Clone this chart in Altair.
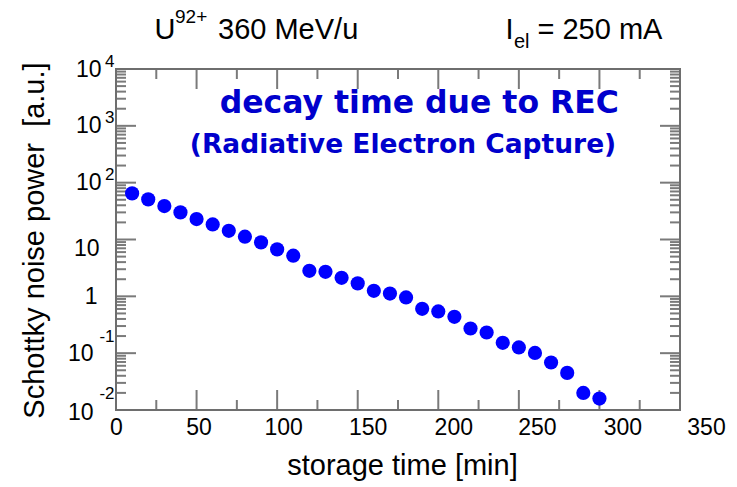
import altair as alt
import pandas as pd

# ---- data ----
time_min = [10, 20, 30, 40, 50, 60, 70, 80, 90, 100,
            110, 120, 130, 140, 150, 160, 170, 180, 190, 200,
            210, 220, 230, 240, 250, 260, 270, 280, 290, 300]
noise_power = [64.8, 50.8, 38.7, 30.0, 22.9, 18.4, 14.2, 11.2, 8.9, 6.7,
               5.2, 2.81, 2.70, 2.12, 1.69, 1.25, 1.12, 0.957, 0.603, 0.542,
               0.436, 0.272, 0.231, 0.152, 0.126, 0.101, 0.0686, 0.045, 0.020, 0.0159]

x_label_values = [0, 50, 100, 150, 200, 250, 300, 350]
x_major_ticks = [50, 100, 150, 200, 250, 300]
x_minor_ticks = [25, 75, 125, 175, 225, 275, 325]
y_decades = [0.01, 0.1, 1, 10, 100, 1000, 10000]
y_major_ticks = [0.1, 1, 10, 100, 1000]
y_exponent_values = [0.01, 0.1, 100, 1000, 10000]
y_minor_ticks = [m * 10.0 ** e for e in range(-2, 4) for m in range(2, 10)]

df = pd.DataFrame({"t": time_min, "p": noise_power})

W, H = 564, 341
FRAME = "#6e6e6e"
TICK = "#7a7a7a"
FONT = "Liberation Sans"

x_scale = alt.Scale(domain=[0, 350], nice=False, zero=False)
y_scale = alt.Scale(type="log", domain=[0.01, 10000], nice=False)

x_label_offset = {
    "condition": [
        {"test": "datum.value === 50", "value": 2},
        {"test": "datum.value === 100", "value": 6},
        {"test": "datum.value === 150", "value": 10},
        {"test": "datum.value === 200", "value": 15},
        {"test": "datum.value === 250", "value": 18},
        {"test": "datum.value === 300", "value": 23},
        {"test": "datum.value === 350", "value": 26},
    ],
    "value": 0,
}
y_base_padding = {
    "condition": [
        {"test": "datum.value >= 100", "value": 15},
        {"test": "datum.value === 10", "value": 17},
        {"test": "datum.value === 1", "value": 19},
    ],
    "value": 23,
}
y_base_offset = {
    "condition": [
        {"test": "datum.value === 10", "value": 9},
        {"test": "datum.value < 0.05", "value": 2},
    ],
    "value": 0,
}
y_exp_offset = {"condition": {"test": "datum.value >= 100", "value": -8}, "value": -17}

base = alt.Chart(df)

points = base.mark_circle(size=201, color="#0000FF", opacity=1).encode(
    x=alt.X("t:Q", scale=x_scale, axis=alt.Axis(
        orient="bottom", values=x_label_values, ticks=False, grid=False,
        labelFont=FONT, labelFontSize=23, labelColor="black", labelPadding=6,
        labelOffset=x_label_offset, labelFlush=False, labelOverlap=False,
        domain=False,
        title="storage time [min]", titleFont=FONT, titleFontSize=29,
        titleFontWeight="normal", titleColor="black", titleX=286, titleY=64,
        titleBaseline="alphabetic")),
    y=alt.Y("p:Q", scale=y_scale, axis=alt.Axis(
        orient="left", values=y_decades, ticks=False, grid=False,
        labelExpr="datum.value === 1 ? '1' : '10'",
        labelFont=FONT, labelFontSize=23, labelColor="black",
        labelPadding=y_base_padding, labelOffset=y_base_offset, labelOverlap=False,
        labelFlush=False, domain=False,
        title="Schottky noise power\u00a0 [a.u.]", titleFont=FONT, titleFontSize=29,
        titleFontWeight="normal", titleColor="black", titleX=-73, titleY=171,
        titleBaseline="alphabetic", titleAngle=270)),
)

exponents = base.mark_circle(opacity=0).encode(
    x=alt.X("t:Q", scale=x_scale, axis=None),
    y=alt.Y("p:Q", scale=y_scale, axis=alt.Axis(
        orient="left", values=y_exponent_values, ticks=False, domain=False, grid=False,
        labelExpr="'' + round(log(datum.value)/LN10)",
        labelFont=FONT, labelFontSize=17, labelColor="black", labelAlign="right",
        labelPadding=2, labelOffset=y_exp_offset, labelOverlap=False, labelFlush=False,
        title=None)),
)


def x_ticks(values, length):
    """Inward tick marks on the bottom and top frame edges, placed by the x scale."""
    d = alt.Chart(pd.DataFrame({"v": values}))
    enc_x = alt.X("v:Q", scale=x_scale, axis=None)
    bottom = d.mark_tick(color=TICK, fill=TICK, size=length, thickness=2, opacity=1).encode(
        x=enc_x, y=alt.value(H - length / 2))
    top = d.mark_tick(color=TICK, fill=TICK, size=length, thickness=2, opacity=1).encode(
        x=enc_x, y=alt.value(length / 2))
    return [bottom, top]


def y_ticks(values, length):
    """Inward tick marks on the left and right frame edges, placed by the y scale."""
    d = alt.Chart(pd.DataFrame({"v": values}))
    enc_y = alt.Y("v:Q", scale=y_scale, axis=None)
    left = d.mark_tick(color=TICK, fill=TICK, size=length, thickness=2, opacity=1).encode(
        y=enc_y, x=alt.value(length / 2))
    right = d.mark_tick(color=TICK, fill=TICK, size=length, thickness=2, opacity=1).encode(
        y=enc_y, x=alt.value(W - length / 2))
    return [left, right]


tick_layers = (x_ticks(x_major_ticks, 20) + x_ticks(x_minor_ticks, 10)
               + y_ticks(y_major_ticks, 20) + y_ticks(y_minor_ticks, 10))


def frame_edge(x1, x2, y1, y2):
    return alt.Chart(alt.Data(values=[{}])).mark_rect(color=FRAME, fill=FRAME, opacity=1).encode(
        x=alt.value(x1), x2=alt.value(x2), y=alt.value(y1), y2=alt.value(y2))


frame = [
    frame_edge(-1, W + 1, -1, 1),
    frame_edge(-1, W + 1, H - 1, H + 1),
    frame_edge(-1, 1, -1, H + 1),
    frame_edge(W - 1, W + 1, -1, H + 1),
]


def label(text, x, y, size, color="black", font=FONT, weight="normal", align="left"):
    return alt.Chart(alt.Data(values=[{}])).mark_text(
        text=text, fontSize=size, font=font, fontWeight=weight, color=color,
        align=align, baseline="alphabetic").encode(x=alt.value(x), y=alt.value(y))


annotations = [
    label("U", 38.5, -29.7, 29),
    label("92+", 59, -45.7, 19),
    label("360 MeV/u", 102, -29.7, 29),
    label("I", 389.6, -29.7, 29),
    label("el", 398, -21, 20),
    label("= 250 mA", 421.5, -29.7, 29),
    label("decay time due to REC", 303.3, 43.7, 31.5, color="#0000CC",
          font="DejaVu Sans", weight="bold", align="center"),
    label("(Radiative Electron Capture)", 287, 83.7, 26.5, color="#0000CC",
          font="DejaVu Sans", weight="bold", align="center"),
]

chart = alt.layer(
    exponents, *tick_layers, *frame, points, *annotations
).resolve_axis(x="independent", y="independent").properties(
    width=W, height=H,
    autosize="none",
    padding={"left": 116, "top": 69, "right": 57, "bottom": 77},
    background="white",
).configure_view(stroke=None)

chart.save("out.html", embed_options={"renderer": "svg", "actions": False})
